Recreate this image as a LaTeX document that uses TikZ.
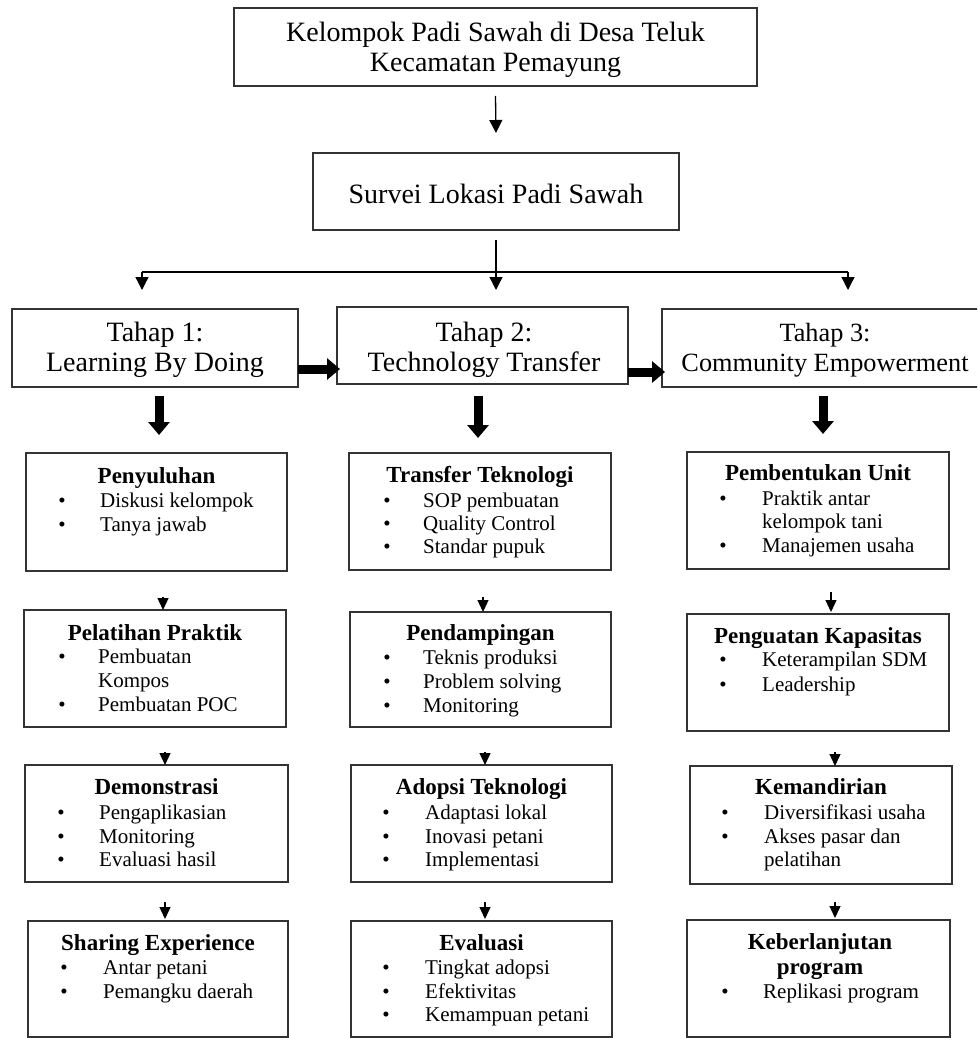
\documentclass[tikz,border=0pt]{standalone}
\usepackage{fontspec}
\setmainfont{Liberation Serif}
\usetikzlibrary{arrows.meta}
\newcommand\bitem[5]{\node[bul] (#1b) at (#2,#4) {•};\node[itm] (#1) at (#3,#4) {#5};}
\newcommand\citem[4]{\node[itm] (#1) at (#2,#3) {#4};}
\begin{document}
\begin{tikzpicture}[x=1pt,y=-1pt,
 box/.style={draw=black!80, line width=1.1pt, inner sep=0pt, outer sep=0pt},
 big/.style={font=\fontsize{28}{29.5}\selectfont, align=center, inner sep=0pt},
 ttl/.style={font=\fontsize{23}{25}\selectfont\bfseries, anchor=base, inner sep=0pt},
 itm/.style={font=\fontsize{21}{24}\selectfont, anchor=base west, inner sep=0pt},
 bul/.style={font=\fontsize{21}{24}\selectfont, anchor=base, inner sep=0pt},
 thinarr/.style={line width=1.3pt, -{Triangle[width=13pt,length=13pt]}},
 branch/.style={line width=1.6pt},
 smallarr/.style={line width=1.3pt, -{Triangle[width=11pt,length=12pt]}},
 fatarr/.style={line width=9pt, -{Triangle[width=21pt,length=13pt]}},
]
\useasboundingbox (0,0) rectangle (977,1038);
\clip (0,0) rectangle (977,1038);

% top
\node[box, minimum width=523pt, minimum height=78pt] (top) at (495.5,47) {};
\node[big] (toptxt) at (495.5,50) {Kelompok Padi Sawah di Desa Teluk\\Kecamatan Pemayung};
\node[box, minimum width=366pt, minimum height=77pt] (survei) at (496,191.5) {};
\node[big] (surveitxt) at (496,194) {Survei Lokasi Padi Sawah};
\draw[thinarr] ([yshift=-10pt]top.south) -- ([yshift=20pt]survei.north);

% tahap
\node[box, minimum width=286pt, minimum height=78pt] (t1) at (155,348) {};
\node[big] (t1txt) at (155,350) {Tahap 1:\\Learning By Doing};
\node[box, minimum width=291pt, minimum height=77pt] (t2) at (482.5,345.5) {};
\node[big] (t2txt) at (484,350) {Tahap 2:\\Technology Transfer};
\node[box, minimum width=326pt, minimum height=78pt] (t3) at (825,348) {};
\node[big, font=\fontsize{26.3}{29.5}\selectfont] (t3txt) at (825,350) {Tahap 3:\\Community Empowerment};

\coordinate (hl) at (142,272);
\coordinate (hr) at (848,272);
\coordinate (hlend) at (142,290);
\coordinate (hrend) at (848,290);
\draw[branch] (hl) -- (hr);
\draw[thinarr] ([yshift=-10pt]survei.south) -- ([yshift=-60pt]survei.south);
\draw[thinarr] (hl) -- (hlend);
\draw[thinarr] (hr) -- (hrend);

\draw[fatarr] ([yshift=-21pt]t1.east) -- ([yshift=-21pt,xshift=3pt]t1.east -| t2.west);
\draw[fatarr] ([yshift=-26.5pt]t2.east) -- ([yshift=-26.5pt,xshift=3pt]t2.east -| t3.west);

% column 1 boxes
\node[box, minimum width=261pt, minimum height=118pt] (p1) at (156.5,512) {};
\node[box, minimum width=262pt, minimum height=117pt] (p2) at (155,668.5) {};
\node[box, minimum width=263pt, minimum height=117pt] (p3) at (156.5,823.5) {};
\node[box, minimum width=260pt, minimum height=116pt] (p4) at (158,979) {};
% column 2 boxes
\node[box, minimum width=262pt, minimum height=117pt] (q1) at (480,511.5) {};
\node[box, minimum width=261pt, minimum height=115pt] (q2) at (480.5,669.5) {};
\node[box, minimum width=261pt, minimum height=117pt] (q3) at (481.5,823.5) {};
\node[box, minimum width=261pt, minimum height=116pt] (q4) at (481.5,979) {};
% column 3 boxes
\node[box, minimum width=262pt, minimum height=117pt] (r1) at (818,510.5) {};
\node[box, minimum width=262pt, minimum height=117pt] (r2) at (818,672.5) {};
\node[box, minimum width=262pt, minimum height=118pt] (r3) at (821,825) {};
\node[box, minimum width=263pt, minimum height=117pt] (r4) at (818.5,978.5) {};

% fat down arrows
\draw[fatarr] ([xshift=4pt,yshift=-9pt]t1.south) -- ([xshift=2.5pt,yshift=18pt]p1.north);
\draw[fatarr] ([xshift=-4.5pt,yshift=-12pt]t2.south) -- ([xshift=-2pt,yshift=15pt]q1.north);
\draw[fatarr] ([xshift=-2pt,yshift=-9pt]t3.south) -- ([xshift=5pt,yshift=18pt]r1.north);

% small arrows
\draw[smallarr] ([xshift=6.5pt,yshift=-26pt]p1.south) -- ([xshift=8pt]p2.north);
\draw[smallarr] ([xshift=10pt,yshift=-25pt]p2.south) -- ([xshift=8.5pt]p3.north);
\draw[smallarr] ([xshift=8.5pt,yshift=-20pt]p3.south) -- ([xshift=7pt,yshift=2pt]p4.north);
\draw[smallarr] ([xshift=3pt,yshift=-27pt]q1.south) -- ([xshift=2.5pt]q2.north);
\draw[smallarr] ([xshift=4.5pt,yshift=-25pt]q2.south) -- ([xshift=3.5pt]q3.north);
\draw[smallarr] ([xshift=3.5pt,yshift=-20pt]q3.south) -- ([xshift=3.5pt,yshift=2pt]q4.north);
\draw[smallarr] ([xshift=13pt,yshift=-23pt]r1.south) -- ([xshift=13pt,yshift=2pt]r2.north);
\draw[smallarr] ([xshift=17pt,yshift=-21pt]r2.south) -- ([xshift=14pt]r3.north);
\draw[smallarr] ([xshift=14pt,yshift=-18pt]r3.south) -- ([xshift=16.5pt,yshift=2pt]r4.north);

% column 1 texts
\node[ttl] (p1t) at (156.5,483.5) {Penyuluhan};
\bitem{p1a}{62}{100}{507.5}{Diskusi kelompok}
\bitem{p1c}{62}{100}{531.5}{Tanya jawab}
\node[ttl] (p2t) at (155,640.5) {Pelatihan Praktik};
\bitem{p2a}{62}{98}{663.5}{Pembuatan}
\citem{p2b}{98}{687.5}{Kompos}
\bitem{p2c}{62}{98}{711.5}{Pembuatan POC}
\node[ttl] (p3t) at (156.5,794.5) {Demonstrasi};
\bitem{p3a}{61}{99}{819.5}{Pengaplikasian}
\bitem{p3c}{61}{99}{843.5}{Monitoring}
\bitem{p3d}{61}{99}{866.5}{Evaluasi hasil}
\node[ttl] (p4t) at (158,950.5) {Sharing Experience};
\bitem{p4a}{64}{103}{974.5}{Antar petani}
\bitem{p4c}{64}{103}{998.5}{Pemangku daerah}

% column 2 texts
\node[ttl] (q1t) at (480,482.5) {Transfer Teknologi};
\bitem{q1a}{387}{423}{507.5}{SOP pembuatan}
\bitem{q1c}{387}{423}{530.5}{Quality Control}
\bitem{q1d}{387}{423}{553.5}{Standar pupuk}
\node[ttl] (q2t) at (480.5,640.5) {Pendampingan};
\bitem{q2a}{387}{423}{664.5}{Teknis produksi}
\bitem{q2c}{387}{423}{688.5}{Problem solving}
\bitem{q2d}{387}{423}{712.5}{Monitoring}
\node[ttl] (q3t) at (481.5,794.5) {Adopsi Teknologi};
\bitem{q3a}{386}{425}{819.5}{Adaptasi lokal}
\bitem{q3c}{386}{425}{843.5}{Inovasi petani}
\bitem{q3d}{386}{425}{866.5}{Implementasi}
\node[ttl] (q4t) at (481.5,950.5) {Evaluasi};
\bitem{q4a}{386}{425}{974.5}{Tingkat adopsi}
\bitem{q4c}{386}{425}{998.5}{Efektivitas}
\bitem{q4d}{386}{425}{1021.5}{Kemampuan petani}

% column 3 texts
\node[ttl] (r1t) at (818,480.5) {Pembentukan Unit};
\bitem{r1a}{723}{762}{505.5}{Praktik antar}
\citem{r1b}{762}{528.5}{kelompok tani}
\bitem{r1c}{723}{762}{552.5}{Manajemen usaha}
\node[ttl] (r2t) at (818,643.5) {Penguatan Kapasitas};
\bitem{r2a}{723}{762}{666.5}{Keterampilan SDM}
\bitem{r2c}{723}{762}{691.5}{Leadership}
\node[ttl] (r3t) at (821,794.5) {Kemandirian};
\bitem{r3a}{725}{764}{819.5}{Diversifikasi usaha}
\bitem{r3c}{725}{764}{843.5}{Akses pasar dan}
\citem{r3d}{764}{866.5}{pelatihan}
\node[ttl] (r4t) at (820,949.5) {Keberlanjutan};
\node[ttl] (r4u) at (820,974.5) {program};
\bitem{r4a}{725}{763}{998.5}{Replikasi program}
\end{tikzpicture}
\end{document}
